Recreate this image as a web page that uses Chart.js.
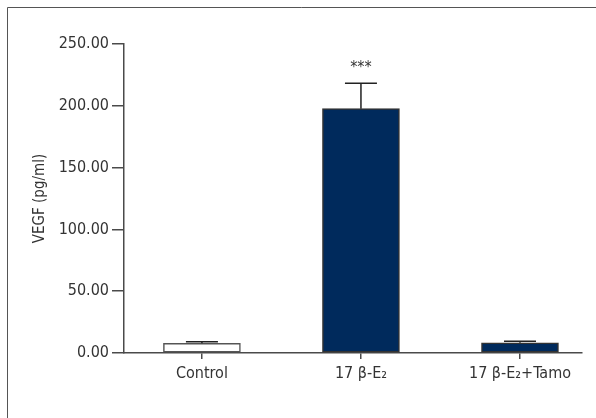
<!DOCTYPE html>
<html>
<head>
<meta charset="utf-8">
<script src="https://cdn.jsdelivr.net/npm/chart.js@4/dist/chart.umd.min.js"></script>
<style>
  html, body { margin: 0; padding: 0; background: #fff; }
  #wrap { position: relative; width: 596px; height: 418px; }
</style>
</head>
<body>
<div id="wrap"><canvas id="myChart" width="596" height="418"></canvas></div>
<script>
const groups = ['Control', '17 β-E₂', '17 β-E₂+Tamo'];
const vegfMean = [7.8, 197.7, 8.3];
const vegfSD = [1.3, 20.5, 1.2];
const stars = ['', '***', ''];
const yTicks = [0, 50, 100, 150, 200, 250];

const axisColor = '#4a4a4a';
const fontFamily = '"DejaVu Sans Condensed", "Liberation Sans Narrow", sans-serif';

const errorBars = {
  id: 'errorBars',
  afterDatasetsDraw(chart) {
    const {ctx, scales: {x, y}} = chart;
    ctx.save();
    ctx.strokeStyle = '#222';
    ctx.lineWidth = 1.5;
    vegfMean.forEach((m, i) => {
      const px = x.getPixelForValue(i);
      const top = y.getPixelForValue(m + vegfSD[i]);
      const base = y.getPixelForValue(m);
      ctx.beginPath();
      ctx.moveTo(px, base);
      ctx.lineTo(px, top);
      ctx.moveTo(px - 16, top);
      ctx.lineTo(px + 16, top);
      ctx.stroke();
      if (stars[i]) {
        ctx.fillStyle = '#333';
        ctx.font = '16px ' + fontFamily;
        ctx.textAlign = 'center';
        ctx.textBaseline = 'middle';
        ctx.fillText(stars[i], px, top - 15);
      }
    });
    ctx.restore();
  }
};

const frame = {
  id: 'frame',
  beforeDraw(chart) {
    const ctx = chart.ctx;
    ctx.save();
    ctx.strokeStyle = '#555';
    ctx.lineWidth = 1;
    ctx.beginPath();
    ctx.moveTo(7.5, 418);
    ctx.lineTo(7.5, 7.5);
    ctx.lineTo(596, 7.5);
    ctx.stroke();
    ctx.restore();
  }
};

const ctx = document.getElementById('myChart');

new Chart(ctx, {
  type: 'bar',
  data: {
    datasets: [{
      data: vegfMean.map((v, i) => ({x: i, y: v})),
      backgroundColor: ['#ffffff', '#002a5c', '#002a5c'],
      borderColor: ['#555', '#333', '#333'],
      borderWidth: 1.5,
      borderSkipped: false,
      barThickness: 77
    }]
  },
  options: {
    responsive: false,
    animation: false,
    layout: { padding: { left: 0, top: 44, right: 14, bottom: 0 } },
    plugins: {
      legend: { display: false },
      tooltip: { enabled: false }
    },
    scales: {
      x: {
        type: 'linear',
        offset: false,
        min: -0.49,
        max: 2.39,
        afterBuildTicks: (s) => { s.ticks = groups.map((g, i) => ({value: i})); },
        afterFit: (s) => { s.height = 65; },
        grid: { offset: false, drawOnChartArea: false, color: axisColor, tickLength: 6, lineWidth: 1.5 },
        border: { color: axisColor, width: 1.5 },
        ticks: {
          callback: (v) => groups[v],
          color: '#333',
          font: { family: fontFamily, size: 16 },
          padding: 5,
          maxRotation: 0
        }
      },
      y: {
        min: 0,
        max: 250,
        afterBuildTicks: (s) => { s.ticks = yTicks.map(v => ({value: v})); },
        afterFit: (s) => { s.width = 124; },
        grid: { drawOnChartArea: false, color: axisColor, tickLength: 12, lineWidth: 1.5 },
        border: { color: axisColor, width: 1.5 },
        ticks: {
          callback: (v) => v.toFixed(2),
          color: '#333',
          font: { family: fontFamily, size: 16 },
          padding: 3
        },
        title: {
          display: true,
          text: 'VEGF (pg/ml)',
          color: '#333',
          font: { family: fontFamily, size: 15 },
          padding: { top: 31, bottom: 4 }
        }
      }
    }
  },
  plugins: [frame, errorBars]
});
</script>
</body>
</html>
